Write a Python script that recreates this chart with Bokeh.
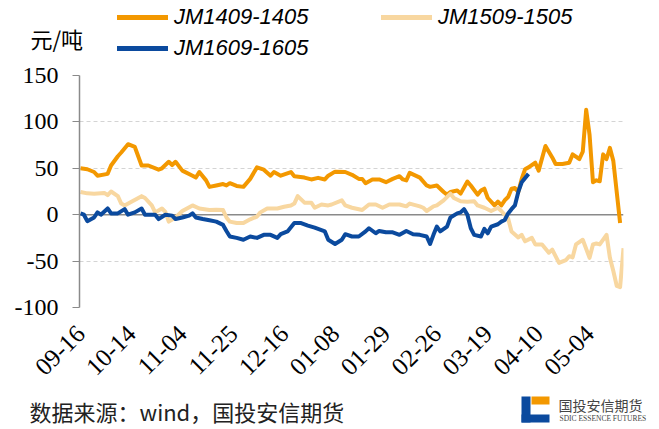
import math
from bokeh.plotting import figure
from bokeh.layouts import column, row
from bokeh.models import (Range1d, FixedTicker, Span, Label, Legend, LegendItem,
                          BoxAnnotation)
from bokeh.embed import file_html
from bokeh.resources import INLINE

# ---- data -------------------------------------------------------------
tick_days = [0, 15, 30, 45, 60, 75, 90, 105, 120, 135, 150]
tick_labels = ["09-16", "10-14", "11-04", "11-25", "12-16", "01-08",
               "01-29", "02-26", "03-19", "04-10", "05-04"]

jm1409_day = [0, 2, 4, 5, 8, 9, 11, 12, 14, 16, 18, 20, 23, 24, 26, 27, 28, 30, 33, 34,
              35, 37, 38, 40, 42, 43, 44, 46, 48, 50, 52, 54, 56, 57, 59, 62, 63, 66, 68, 70,
              72, 73, 75, 78, 80, 82, 83, 84, 86, 88, 90, 92, 94, 95, 96, 97, 100, 102, 103, 105,
              107, 108, 109, 111, 112, 114, 115, 117, 118, 119, 120, 122, 123, 124, 125, 126, 127, 128, 129, 130,
              131, 132, 134, 135, 137, 139, 140, 142, 144, 145, 147, 148, 149, 150, 151, 152, 153, 154, 155, 156,
              157, 159]
jm1409_val = [50, 49, 46, 42, 44, 53, 63, 67, 76, 73, 53, 53, 48.5, 50, 57, 53.5, 57, 47.5, 42, 40,
              46, 37, 30, 31.5, 33, 31.5, 34, 31, 30, 38.6, 51, 48.5, 42, 46, 42, 46, 41.5, 40, 38, 39.7,
              38, 42, 46.4, 46, 43, 38.6, 38.6, 34, 38, 38, 35, 38.6, 41.5, 38, 37, 45, 40, 31.5, 30, 31.5,
              24.5, 21.6, 24.5, 26, 22.7, 35.7, 31.5, 21.6, 26, 28, 18, 10, 14, 10, 15.5, 19, 28, 28.7, 24.5, 38.6,
              49, 51, 56, 47.5, 74, 61.7, 54.6, 54.6, 56, 65, 60, 68, 113, 86, 35, 37, 36, 65, 60, 72,
              58, -9]

jm1509_day = [0, 2, 4, 7, 8, 9, 11, 12, 13, 15, 18, 19, 21, 22, 24, 25, 26, 28, 30, 33,
              35, 38, 40, 42, 43, 44, 46, 48, 50, 52, 53, 55, 58, 60, 62, 63, 64, 66, 68, 69,
              71, 73, 74, 77, 78, 80, 81, 83, 85, 87, 89, 91, 94, 96, 97, 100, 101, 102, 104, 105,
              107, 109, 110, 112, 114, 116, 117, 119, 121, 123, 124, 126, 127, 129, 130, 131, 133, 134, 136, 138,
              139, 141, 143, 144, 145, 146, 148, 150, 151, 152, 153, 155, 156, 157, 158, 159, 160]
jm1509_val = [24.5, 23, 22.7, 23.5, 21, 25, 20, 12, 10, 14, 20, 18, 10, 2.5, 6.7, 3, -7.5, -3, 4, 10,
              6.7, 5, 5.3, 5, -3, -7.5, -9, -9, -5, -2, 2.5, 6.7, 6.7, 8.5, 10, 12, 20, 13, 13, 7.5,
              11, 10, 11, 15.5, 10, 7.5, 6.7, 5, 11, 11, 7.5, 11, 11, 9, 12, 9, 7.5, 4, 9, 10,
              15.5, 22.7, 18, 14.5, 14, 14.5, 10, 7.5, 4, 7.5, 4, -4, -18, -24.5, -21.7, -28.7, -25, -32, -32, -41,
              -37.6, -52, -49, -44.7, -46, -32, -27, -46.5, -32, -31, -32, -21.7, -46.5, -60.6, -76.6, -78, -36]

jm1609_day = [0, 1, 2, 4, 5, 6, 8, 9, 11, 13, 14, 16, 18, 19, 22, 23, 25, 27, 28, 30,
              32, 33, 34, 36, 38, 40, 42, 43, 44, 46, 48, 50, 52, 54, 56, 58, 59, 61, 63, 65,
              67, 69, 72, 73, 75, 77, 78, 80, 82, 84, 85, 87, 88, 90, 92, 94, 96, 98, 100, 102,
              103, 104, 105, 106, 108, 109, 111, 112, 113, 114, 115, 116, 118, 119, 120, 121, 123, 124, 125, 126,
              127, 128, 129, 130, 132]
jm1609_val = [1.4, 0, -7, -3, 2.5, 0, 6.7, 1.4, 1.4, 6, 0, 2.5, 6.7, 0, 0, -4.7, 0, -1, -4.7, -3,
              -1, 1.4, -3, -4.7, -6, -7.5, -11, -17.5, -23.5, -25, -27, -23.5, -25, -21.7, -21.7, -25, -21, -18, -9, -9,
              -11.7, -14, -18, -27, -31.6, -27, -21, -23.5, -23.5, -18, -14.6, -20, -17.5, -19, -19, -21.7, -17.5, -21, -21.7, -23.5,
              -31.6, -21.7, -12.8, -18, -12.8, -3, 1.4, 2.5, 6, 0, -14.6, -21.7, -23.5, -15.3, -20, -12.8, -10.3, -7.5, -5.7, 1.4,
              6, 10, 24.5, 35, 44]

names = ["JM1409-1405", "JM1509-1505", "JM1609-1605"]
colors = ["#F39800", "#F8D7A0", "#0B4A9E"]
unit_text = "元/吨"
source_text = "数据来源：wind，国投安信期货"
logo_cn = "国投安信期货"
logo_en = "SDIC ESSENCE FUTURES"

W = 655
TOP_H, MAIN_H, BOT_H = 60, 325, 40


def blank_fig(h, y0, y1):
    f = figure(width=W, height=h, output_backend="svg", toolbar_location=None,
               x_range=Range1d(0, W), y_range=Range1d(y0, y1),
               x_axis_type=None, y_axis_type=None,
               min_border=0, min_border_left=0, min_border_right=0,
               min_border_top=0, min_border_bottom=0)
    f.outline_line_color = None
    f.grid.visible = False
    f.background_fill_color = "white"
    f.border_fill_color = "white"
    return f


# ---- top: unit + legend -------------------------------------------------
top = blank_fig(TOP_H, TOP_H, 0)
top.add_layout(Label(x=30, y=37, text=unit_text, text_font="Noto Sans CJK SC",
                     text_font_size="22px", text_baseline="middle", text_color="black"))

nan = float("nan")
dummy = [top.line([nan], [nan], line_color=c, line_width=5, line_cap="round") for c in colors]


def make_legend(renderer, name, x_left, y_center):
    lg = Legend(items=[LegendItem(label=name, renderers=[renderer])],
                location=(x_left, TOP_H - (y_center + 11)),
                glyph_width=51, glyph_height=22, label_height=22,
                label_standoff=6, padding=0, margin=0, spacing=0,
                border_line_color=None, background_fill_alpha=0,
                label_text_font="Liberation Sans", label_text_font_style="italic",
                label_text_font_size="22px", label_text_color="black")
    top.add_layout(lg, "center")


make_legend(dummy[0], names[0], 117, 19)
make_legend(dummy[1], names[1], 381, 19)
make_legend(dummy[2], names[2], 117, 50)

# ---- main chart -----------------------------------------------------------
p = figure(width=W, height=MAIN_H, output_backend="svg", toolbar_location=None,
           x_range=Range1d(-0.3, 160), y_range=Range1d(-100, 150),
           min_border_left=79, min_border_right=32, min_border_top=15,
           min_border_bottom=74)
p.outline_line_color = None
p.background_fill_color = "white"
p.border_fill_color = "white"

p.xgrid.visible = False
p.ygrid.grid_line_color = "#d4d4d4"
p.ygrid.grid_line_dash = "4 3"
p.ygrid.grid_line_width = 1
p.yaxis.ticker = FixedTicker(ticks=[-100, -50, 0, 50, 100, 150])
p.ygrid.ticker = FixedTicker(ticks=[-100, -50, 50, 100, 150])

p.add_layout(Span(location=0, dimension="width", line_color="#8a8a8a",
                  line_width=1.5, level="underlay"))

p.yaxis.axis_line_color = "#8a8a8a"
p.yaxis.axis_line_width = 1.5
p.yaxis.major_tick_line_color = "#8a8a8a"
p.yaxis.major_tick_out = 7
p.yaxis.major_tick_in = 0
p.yaxis.minor_tick_line_color = None
p.yaxis.major_label_standoff = 14
p.yaxis.major_label_text_font = "Liberation Serif"
p.yaxis.major_label_text_font_size = "24px"
p.yaxis.major_label_text_color = "black"
p.yaxis.major_label_overrides = {v: str(v) for v in [-100, -50, 0, 50, 100, 150]}

p.xaxis.ticker = FixedTicker(ticks=tick_days)
p.xaxis.major_label_overrides = {d: t for d, t in zip(tick_days, tick_labels)}
p.xaxis.axis_line_color = None
p.xaxis.major_tick_line_color = None
p.xaxis.minor_tick_line_color = None
p.xaxis.major_label_orientation = math.pi / 4
p.xaxis.major_label_standoff = 16
p.xaxis.major_label_text_font = "Liberation Serif"
p.xaxis.major_label_text_font_size = "25px"
p.xaxis.major_label_text_color = "black"

p.line(jm1409_day, jm1409_val, line_color=colors[0], line_width=4, line_join="round")
p.line(jm1509_day, jm1509_val, line_color=colors[1], line_width=4, line_join="round")
p.line(jm1609_day, jm1609_val, line_color=colors[2], line_width=4, line_join="round")

# ---- bottom: source + logo -----------------------------------------------
y_off = TOP_H + MAIN_H
bot = blank_fig(BOT_H, y_off + BOT_H, y_off)
bot.add_layout(Label(x=29, y=410, text=source_text, text_font="Noto Sans CJK SC",
                     text_font_size="22px", text_baseline="middle", text_color="#222222"))
bot.add_layout(BoxAnnotation(left=521, right=530, top=396, bottom=422,
                             fill_color="#0B4A9E", fill_alpha=1, line_color=None))
bot.add_layout(BoxAnnotation(left=521, right=549, top=414, bottom=422,
                             fill_color="#0B4A9E", fill_alpha=1, line_color=None))
bot.add_layout(BoxAnnotation(left=531, right=549, top=396, bottom=404,
                             fill_color="#F39800", fill_alpha=1, line_color=None))
bot.add_layout(Label(x=558, y=404, text=logo_cn, text_font="Noto Sans CJK SC",
                     text_font_size="14px", text_baseline="middle", text_color="#444444"))
bot.add_layout(Label(x=559, y=418, text=logo_en, text_font="Liberation Sans Narrow",
                     text_font_size="7.5px", text_baseline="middle", text_color="#444444"))

layout = column(row(top), p, row(bot), spacing=0)
open("out.html", "w").write(file_html(layout, INLINE))
